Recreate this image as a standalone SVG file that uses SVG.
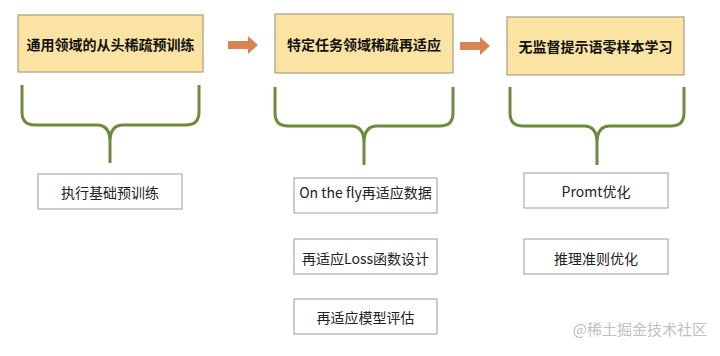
<svg xmlns="http://www.w3.org/2000/svg" width="720" height="356" viewBox="0 0 720 356">
<style>
.top{fill:#fbe4a3;stroke:#a89f7e;stroke-width:1.2}
.sub{fill:#fff;stroke:#9a9a9a;stroke-width:1}
.tt{font-family:"Noto Sans CJK SC","Noto Sans",sans-serif;font-size:14px;font-weight:bold;fill:#111;text-anchor:middle;dominant-baseline:central}
.st{font-family:"Noto Sans CJK SC","Noto Sans",sans-serif;font-size:14px;fill:#222;text-anchor:middle;dominant-baseline:central}
.brace{fill:none;stroke:#6e8b3d;stroke-width:3}
.arrow{fill:#d98553}
</style>
<rect width="720" height="356" fill="#fff"/>
<g id="n1"><rect class="top" x="18" y="15" width="185" height="57"/><text class="tt" x="110.5" y="43.5">通用领域的从头稀疏预训练</text></g>
<g id="n2"><rect class="top" x="275" y="14" width="178" height="59"/><text class="tt" x="364" y="44">特定任务领域稀疏再适应</text></g>
<g id="n3"><rect class="top" x="507" y="17" width="177" height="58"/><text class="tt" x="595.5" y="46">无监督提示语零样本学习</text></g>
<g id="a1"><rect class="sub" x="38" y="174" width="144" height="35"/><text class="st" x="110" y="191.5">执行基础预训练</text></g>
<g id="b1"><rect class="sub" x="294" y="178" width="143" height="35"/><text class="st" x="365.5" y="192">On the fly再适应数据</text></g>
<g id="b2"><rect class="sub" x="294" y="239" width="143" height="35"/><text class="st" x="365.5" y="258">再适应Loss函数设计</text></g>
<g id="b3"><rect class="sub" x="294" y="299" width="143" height="35"/><text class="st" x="365.5" y="316.5">再适应模型评估</text></g>
<g id="c1"><rect class="sub" x="524" y="173" width="144" height="35"/><text class="st" x="596" y="191">Promt优化</text></g>
<g id="c2"><rect class="sub" x="524" y="239" width="144" height="35"/><text class="st" x="596" y="258">推理准则优化</text></g>
<g id="connectors">
<path class="arrow" d="M228,41 H248 V36 L258,45 L248,54 V49 H228 Z"/>
<path class="arrow" d="M460,42 H480 V37 L490,46 L480,55 V50 H460 Z"/>
<path class="brace" d="M22,85 V112 Q22,125 35,125 H97 Q110,125 110,142 V163 M199,85 V112 Q199,125 186,125 H123 Q110,125 110,142"/>
<path class="brace" d="M275,87 V113 Q275,126 288,126 H351 Q364,126 364,143 V165 M453,87 V113 Q453,126 440,126 H377 Q364,126 364,143"/>
<path class="brace" d="M510,87 V113 Q510,126 523,126 H584 Q597,126 597,143 V165 M684,87 V113 Q684,126 671,126 H610 Q597,126 597,143"/>
</g>
<text x="707" y="335" font-family="'Noto Sans CJK SC',sans-serif" font-size="15" fill="#c0c0c0" text-anchor="end">@稀土掘金技术社区</text>
</svg>
